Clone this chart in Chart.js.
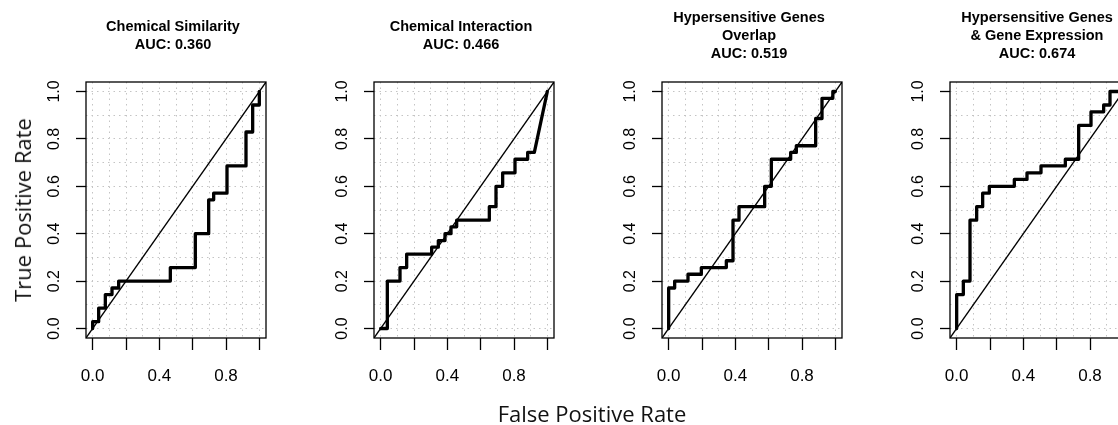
<!DOCTYPE html>
<html>
<head>
<meta charset="utf-8">
<script src="https://cdn.jsdelivr.net/npm/chart.js@4.4.0/dist/chart.umd.min.js"></script>
<style>
  html, body { margin: 0; padding: 0; background: #fff; }
  body { position: relative; width: 1118px; height: 425px; overflow: hidden; }
  canvas { position: absolute; top: 0; }
  .axis-label { position: absolute; font-family: 'Open Sans', sans-serif; font-size: 22px; color: #111; white-space: nowrap; }
  #ylab { left: 22px; top: 210px; transform: translate(-50%, -50%) rotate(-90deg); }
  #xlab { left: 592px; top: 413px; transform: translate(-50%, -50%); }
</style>
</head>
<body>
<canvas id="roc0" width="314" height="425" style="left:16px"></canvas>
<canvas id="roc1" width="314" height="425" style="left:304px"></canvas>
<canvas id="roc2" width="314" height="425" style="left:592px"></canvas>
<canvas id="roc3" width="314" height="425" style="left:880px"></canvas>
<div id="ylab" class="axis-label">True Positive Rate</div>
<div id="xlab" class="axis-label">False Positive Rate</div>
<script>
// Panel titles
const titles = [
  ['Chemical Similarity', 'AUC: 0.360'],
  ['Chemical Interaction', 'AUC: 0.466'],
  ['Hypersensitive Genes', 'Overlap', 'AUC: 0.519'],
  ['Hypersensitive Genes', '& Gene Expression', 'AUC: 0.674']
];

// ROC curve vertices (false positive rate / true positive rate)
const simFpr = [0, 0, 0.036, 0.036, 0.076, 0.076, 0.116, 0.116, 0.156, 0.156, 0.466, 0.466, 0.616, 0.616, 0.696, 0.696, 0.726, 0.726, 0.806, 0.806, 0.92, 0.92, 0.96, 0.96, 1, 1];
const simTpr = [0, 0.029, 0.029, 0.086, 0.086, 0.143, 0.143, 0.171, 0.171, 0.2, 0.2, 0.257, 0.257, 0.4, 0.4, 0.543, 0.543, 0.571, 0.571, 0.686, 0.686, 0.829, 0.829, 0.943, 0.943, 1];

const interFpr = [0, 0.04, 0.04, 0.116, 0.116, 0.156, 0.156, 0.306, 0.306, 0.346, 0.346, 0.386, 0.386, 0.422, 0.422, 0.456, 0.456, 0.652, 0.652, 0.692, 0.692, 0.732, 0.732, 0.806, 0.806, 0.882, 0.882, 0.922, 1];
const interTpr = [0, 0, 0.2, 0.2, 0.257, 0.257, 0.314, 0.314, 0.343, 0.343, 0.371, 0.371, 0.4, 0.4, 0.429, 0.429, 0.457, 0.457, 0.514, 0.514, 0.6, 0.6, 0.657, 0.657, 0.714, 0.714, 0.743, 0.743, 1];

const overlapFpr = [0, 0, 0.036, 0.036, 0.116, 0.116, 0.196, 0.196, 0.346, 0.346, 0.386, 0.386, 0.422, 0.422, 0.576, 0.576, 0.616, 0.616, 0.732, 0.732, 0.766, 0.766, 0.882, 0.882, 0.92, 0.92, 0.985, 0.985, 1];
const overlapTpr = [0, 0.171, 0.171, 0.2, 0.2, 0.229, 0.229, 0.257, 0.257, 0.286, 0.286, 0.457, 0.457, 0.514, 0.514, 0.6, 0.6, 0.714, 0.714, 0.743, 0.743, 0.771, 0.771, 0.886, 0.886, 0.971, 0.971, 1, 1];

const exprFpr = [0, 0, 0.04, 0.04, 0.08, 0.08, 0.12, 0.12, 0.156, 0.156, 0.196, 0.196, 0.346, 0.346, 0.422, 0.422, 0.506, 0.506, 0.652, 0.652, 0.732, 0.732, 0.806, 0.806, 0.882, 0.882, 0.92, 0.92, 1];
const exprTpr = [0, 0.143, 0.143, 0.2, 0.2, 0.457, 0.457, 0.514, 0.514, 0.571, 0.571, 0.6, 0.6, 0.629, 0.629, 0.657, 0.657, 0.686, 0.686, 0.714, 0.714, 0.857, 0.857, 0.914, 0.914, 0.943, 0.943, 1, 1];

// Axes: range, dotted grid, tick marks and labels
const axisMin = -0.04;
const axisMax = 1.04;
const gridValues = [0, 0.1, 0.2, 0.3, 0.4, 0.5, 0.6, 0.7, 0.8, 0.9, 1];
const tickValues = [0, 0.2, 0.4, 0.6, 0.8, 1];
const xTickValues = [0, 0.4, 0.8];
const xTickLabels = ['0.0', '0.4', '0.8'];
const yTickValues = [0, 0.2, 0.4, 0.6, 0.8, 1];
const yTickLabels = ['0.0', '0.2', '0.4', '0.6', '0.8', '1.0'];

const curves = [[simFpr, simTpr], [interFpr, interTpr], [overlapFpr, overlapTpr], [exprFpr, exprTpr]];

Chart.defaults.font.family = "'Liberation Sans', Arial, sans-serif";
Chart.defaults.color = '#000';

function near(list, v) {
  return list.findIndex(t => Math.abs(t - v) < 1e-6);
}

function tickLabel(values, labels) {
  return v => {
    const i = near(values, v);
    return i >= 0 ? labels[i] : '';
  };
}

function tickMarkColor(c) {
  if (!c.tick) return '#000';
  return near(tickValues, c.tick.value) >= 0 ? '#000' : 'rgba(0,0,0,0)';
}

// Frame around the plot region
const boxPlugin = {
  id: 'box',
  afterDraw(chart) {
    const a = chart.chartArea;
    const ctx = chart.ctx;
    ctx.save();
    ctx.strokeStyle = '#000';
    ctx.lineWidth = 1.3;
    ctx.strokeRect(a.left, a.top, a.right - a.left, a.bottom - a.top);
    ctx.restore();
  }
};

curves.forEach(([fpr, tpr], i) => {
  const lines = titles[i].length;
  new Chart(document.getElementById('roc' + i), {
    type: 'scatter',
    data: {
      datasets: [{
        data: fpr.map((x, k) => ({ x: x, y: tpr[k] })),
        showLine: true,
        borderColor: '#000',
        borderWidth: 3.3,
        borderJoinStyle: 'round',
        borderCapStyle: 'round',
        pointRadius: 0,
        tension: 0
      }, {
        data: [{ x: axisMin, y: axisMin }, { x: axisMax, y: axisMax }],
        showLine: true,
        borderColor: '#000',
        borderWidth: 1.3,
        pointRadius: 0
      }]
    },
    options: {
      responsive: false,
      animation: false,
      events: [],
      layout: { padding: 0 },
      plugins: {
        legend: { display: false },
        tooltip: { enabled: false },
        title: {
          display: true,
          text: titles[i],
          color: '#000',
          font: { size: 14.5, weight: 'bold', lineHeight: 18 / 14.5 },
          padding: lines === 3 ? { top: 9, bottom: 19 } : { top: 18, bottom: 28 }
        }
      },
      scales: {
        x: {
          type: 'linear',
          min: axisMin,
          max: axisMax,
          afterBuildTicks: s => { s.ticks = gridValues.map(v => ({ value: v })); },
          afterFit: s => { s.height = 87; },
          grid: { color: '#c4c4c4', lineWidth: 1, tickLength: 12, tickWidth: 1.3, tickColor: tickMarkColor },
          border: { display: false, dash: [1.5, 4] },
          ticks: { autoSkip: false, maxRotation: 0, minRotation: 0, padding: 16, font: { size: 17 }, callback: tickLabel(xTickValues, xTickLabels) }
        },
        y: {
          type: 'linear',
          min: axisMin,
          max: axisMax,
          afterBuildTicks: s => { s.ticks = gridValues.map(v => ({ value: v })); },
          afterFit: s => { s.width = 70; },
          grid: { color: '#c4c4c4', lineWidth: 1, tickLength: 10, tickWidth: 1.3, tickColor: tickMarkColor },
          border: { display: false, dash: [1.5, 4] },
          ticks: { autoSkip: false, minRotation: 90, maxRotation: 90, crossAlign: 'center', padding: 10, font: { size: 16 }, callback: tickLabel(yTickValues, yTickLabels) }
        },
        yRight: {
          position: 'right',
          afterFit: s => { s.width = 64; },
          ticks: { display: false },
          grid: { display: false },
          border: { display: false }
        }
      }
    },
    plugins: [boxPlugin]
  });
});
</script>
</body>
</html>
